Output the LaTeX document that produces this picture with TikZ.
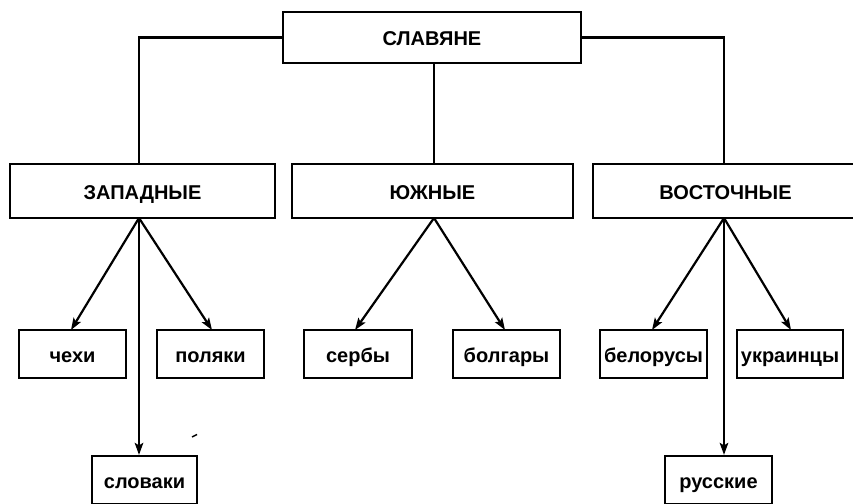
\documentclass[tikz,border=0pt]{standalone}
\usepackage{fontspec}
\setmainfont{Liberation Sans}
\usetikzlibrary{arrows.meta}
\begin{document}
\begin{tikzpicture}[x=1pt,y=-1pt,
  box/.style={draw, line width=2.2pt, inner sep=0pt, text height=16pt, text depth=0pt,
    font=\fontsize{20}{22}\selectfont\bfseries},
  big/.style={box, minimum height=54pt},
  leaf/.style={box, minimum width=107pt, minimum height=48pt},
  conn/.style={line width=2.2pt},
  arr/.style={conn, -{Stealth[length=12pt,width=8.5pt,inset=2.5pt]}}]
\useasboundingbox (0,0) rectangle (853,503);
\clip (0,0) rectangle (853,503);
\node[box, minimum width=298pt, minimum height=51pt] (top) at (432,37.5) {СЛАВЯНЕ};
\node[big, minimum width=265pt] (zap) at (142.5,191) {ЗАПАДНЫЕ};
\node[big, minimum width=281pt] (yuzh) at (432.5,191) {ЮЖНЫЕ};
\node[big, minimum width=265pt] (vost) at (725.5,191) {ВОСТОЧНЫЕ};
\node[leaf] (chekhi) at (72.5,354) {чехи};
\node[leaf] (polyaki) at (210.5,354) {поляки};
\node[leaf, minimum width=105pt] (slovaki) at (144.5,480) {словаки};
\node[leaf, minimum width=108pt] (serby) at (358,354) {сербы};
\node[leaf] (bolgary) at (506.5,354) {болгары};
\node[leaf] (belorusy) at (653.5,354) {белорусы};
\node[leaf, minimum width=106pt] (ukr) at (790,354) {украинцы};
\node[leaf] (russkie) at (718.5,480) {русские};
\coordinate (zt) at (139,164);
\coordinate (zb) at (139,218);
\coordinate (yb) at (434,218);
\coordinate (vb) at (724,218);
% top connectors
\draw[conn] (top.west) -| (zt);
\draw[conn] (top.south -| yb) -- (yb |- yuzh.north);
\draw[conn] (top.east) -| (vost.north -| vb);
% west
\draw[arr] (zb) -- (71,330);
\draw[arr] (zb) -- (212,330);
\draw[arr] (zb) -- (zb |- slovaki.north);
% south
\draw[arr] (yb) -- (355,330);
\draw[arr] (yb) -- (505,330);
% east
\draw[arr] (vb) -- (652,330);
\draw[arr] (vb) -- (791,330);
\draw[arr] (vb) -- (vb |- russkie.north);
% stray speck
\draw[line width=1.5pt] (192,437) -- (197,434.5);
\end{tikzpicture}
\end{document}
